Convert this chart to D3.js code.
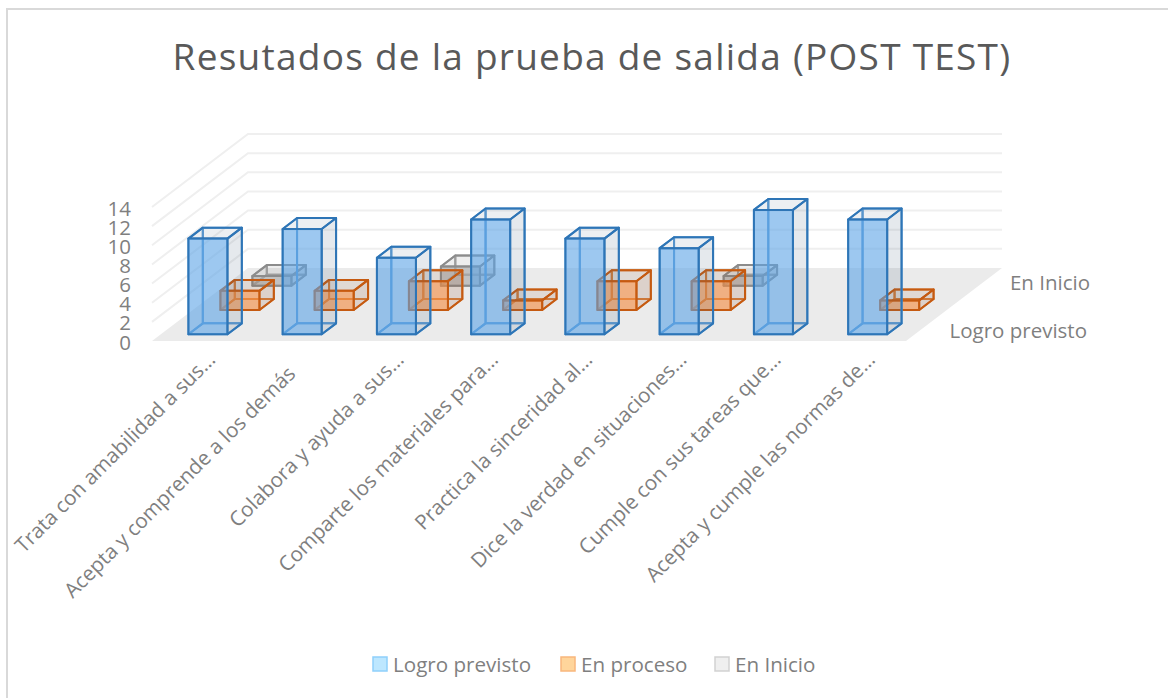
<!DOCTYPE html>
<html>
<head>
<meta charset="utf-8">
<script src="https://cdn.jsdelivr.net/npm/d3@7"></script>
<style>
  html, body { margin: 0; padding: 0; background: #fff; }
  text { font-family: "Open Sans", sans-serif; fill: #7f7f7f; }
</style>
</head>
<body>
<div id="chart"></div>
<script>
const categories = [
  "Trata con amabilidad a sus…",
  "Acepta y comprende a los demás",
  "Colabora y ayuda a sus…",
  "Comparte los materiales para…",
  "Practica la sinceridad al…",
  "Dice la verdad en situaciones…",
  "Cumple con sus tareas que…",
  "Acepta y cumple las normas de…"
];
const seriesNames = ["Logro previsto", "En proceso", "En Inicio"];
const logroPrevisto = [10, 11, 8, 12, 10, 9, 13, 12];
const enProceso = [2, 2, 3, 1, 3, 3, 0, 1];
const enInicio = [1, 0, 2, 0, 0, 1, 0, 0];
const yTicks = [0, 2, 4, 6, 8, 10, 12, 14];
const depthLabels = ["Logro previsto", "En Inicio"];

const seriesValues = [logroPrevisto, enProceso, enInicio];
const seriesStyle = [
  { stroke: "#2e75b6", inner: "#5b9bd5", fill: "#5ba3e6", shade: "#44617f", swatch: "#bde7ff", swatchEdge: "#8fd0fb" },
  { stroke: "#c55a11", inner: "#d9823f", fill: "#f4883c", shade: "#843c0c", swatch: "#ffd59b", swatchEdge: "#f9b77c" },
  { stroke: "#8c8c8c", inner: "#a5a5a5", fill: "#a5a5a5", shade: "#555555", swatch: "#efefef", swatchEdge: "#d2d2d2" }
];

const width = 1168, height = 698;
const svg = d3.select("#chart").append("svg")
  .attr("width", width)
  .attr("height", height)
  .style("display", "block");

// chart border, right and bottom fall outside the picture
svg.append("rect")
  .attr("x", 7).attr("y", 9)
  .attr("width", 1170).attr("height", 700)
  .attr("fill", "#fff").attr("stroke", "#d9d9d9").attr("stroke-width", 2);

// scales: front edge of the floor, height, and depth into the chart
const floorLeft = 152, floorRight = 906, floorY = 341;
const skewX = 96, skewY = 73;
const x = d3.scaleBand().domain(d3.range(categories.length)).range([floorLeft, floorRight]);
const y = d3.scaleLinear().domain([0, 14]).range([0, 134]);
const depth = d3.scaleBand().domain(d3.range(seriesNames.length)).range([0, 1]);

const barWidth = x.bandwidth() * 0.414;
const barDepth = depth.bandwidth() * 0.45;

// oblique projection: px along the front, d in 0-1 into the chart, v in data units
const project = (px, d, v) => [px + d * skewX, floorY - d * skewY - y(v)];
const poly = pts => pts.map(p => p.join(",")).join(" ");

// floor and walls
svg.append("polygon")
  .attr("points", poly([project(floorLeft, 0, 0), project(floorRight, 0, 0), project(floorRight, 1, 0), project(floorLeft, 1, 0)]))
  .attr("fill", "#ebebeb");

const grid = svg.append("g").attr("fill", "none").attr("stroke", "#efefef").attr("stroke-width", 2);
yTicks.slice(1).forEach(t => {
  grid.append("polyline").attr("points", poly([project(floorLeft, 0, t), project(floorLeft, 1, t), project(floorRight, 1, t)]));
});

// one box per value, back row first
const boxes = [];
seriesNames.forEach((name, s) => {
  seriesValues[s].forEach((v, i) => {
    boxes.push({ s: s, i: i, v: v });
  });
});
boxes.sort((a, b) => b.s - a.s || a.i - b.i);

const drawBox = (g, b) => {
  const st = seriesStyle[b.s];
  const x0 = x(b.i) + (x.bandwidth() - barWidth) / 2, x1 = x0 + barWidth;
  const d0 = depth(b.s) + (depth.bandwidth() - barDepth) / 2, d1 = d0 + barDepth;
  const c = project;
  const faces = [
    // hidden faces only show their edges
    { pts: [c(x0, d1, 0), c(x1, d1, 0), c(x1, d1, b.v), c(x0, d1, b.v)], fill: "none", op: 0, line: st.inner },
    { pts: [c(x0, d0, 0), c(x0, d1, 0), c(x0, d1, b.v), c(x0, d0, b.v)], fill: "none", op: 0, line: st.inner },
    { pts: [c(x0, d0, 0), c(x1, d0, 0), c(x1, d1, 0), c(x0, d1, 0)], fill: "none", op: 0, line: st.inner },
    { pts: [c(x1, d0, 0), c(x1, d1, 0), c(x1, d1, b.v), c(x1, d0, b.v)], fill: st.shade, op: 0.14, line: st.stroke },
    { pts: [c(x0, d0, b.v), c(x1, d0, b.v), c(x1, d1, b.v), c(x0, d1, b.v)], fill: st.shade, op: 0.1, line: st.stroke },
    { pts: [c(x0, d0, 0), c(x1, d0, 0), c(x1, d0, b.v), c(x0, d0, b.v)], fill: st.fill, op: 0.6, line: st.stroke }
  ];
  g.selectAll("polygon").data(faces).join("polygon")
    .attr("points", f => poly(f.pts))
    .attr("fill", f => f.fill)
    .attr("fill-opacity", f => f.op)
    .attr("stroke", f => f.line)
    .attr("stroke-width", 2)
    .attr("stroke-linejoin", "round");
};

svg.append("g").selectAll("g")
  .data(boxes.filter(b => b.v > 0))
  .join("g")
  .each(function (b) { drawBox(d3.select(this), b); });

// value axis
const yAxisScale = d3.scaleLinear().domain([0, 14]).range([floorY + 1.5, floorY - 132.5]);
const yAxis = svg.append("g")
  .attr("transform", `translate(${floorLeft - 21},0)`)
  .call(d3.axisLeft(yAxisScale).tickValues(yTicks).tickSize(0).tickPadding(0));
yAxis.select(".domain").remove();
yAxis.selectAll("text").style("font-size", "20.5px").style("fill", "#7f7f7f");

// category labels, the untruncated one sits a little short of its slot
const labelInset = d => d.endsWith("…") ? 0 : 14;
svg.append("g").selectAll("text")
  .data(categories)
  .join("text")
  .attr("text-anchor", "end")
  .attr("font-size", "20.6px")
  .attr("transform", (d, i) => `translate(${x(i) + x.bandwidth() * 0.685 - labelInset(d)},${361 + labelInset(d)})rotate(-45)`)
  .text(d => d);

// depth labels
svg.append("text").attr("x", 1087).attr("y", 338).attr("text-anchor", "end").attr("font-size", "20.5px").text(depthLabels[0]);
svg.append("text").attr("x", 1090).attr("y", 290).attr("text-anchor", "end").attr("font-size", "20.5px").text(depthLabels[1]);

// title
svg.append("text")
  .attr("x", 592).attr("y", 70)
  .attr("text-anchor", "middle")
  .attr("font-size", "37px")
  .attr("letter-spacing", "1.25px")
  .style("fill", "#595959")
  .text("Resutados de la prueba de salida (POST TEST)");

// legend
const legendX = [373, 561, 715];
const legend = svg.append("g").selectAll("g")
  .data(seriesNames)
  .join("g")
  .attr("transform", (d, i) => `translate(${legendX[i]},657)`);
legend.append("rect")
  .attr("width", 14).attr("height", 14)
  .attr("fill", (d, i) => seriesStyle[i].swatch)
  .attr("stroke", (d, i) => seriesStyle[i].swatchEdge)
  .attr("stroke-width", 1.5);
legend.append("text")
  .attr("x", 20).attr("y", 14.5)
  .attr("font-size", "20.6px")
  .text(d => d);
</script>
</body>
</html>
